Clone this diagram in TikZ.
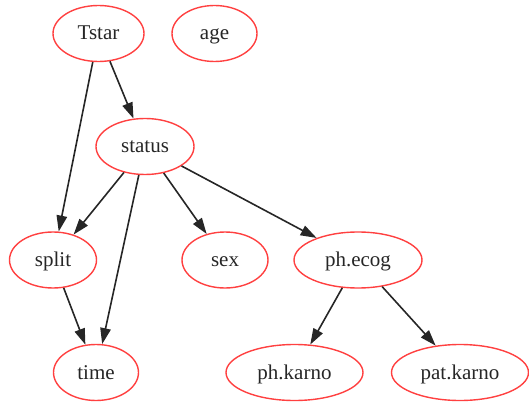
\documentclass[tikz,border=0pt]{standalone}
\usepackage{fontspec}
\setmainfont{Liberation Serif}
\usetikzlibrary{shapes.geometric,arrows.meta}
\begin{document}
\begin{tikzpicture}[x=1pt,y=-1pt,
  var/.style={ellipse,draw=red!75!white,line width=1.4pt,inner sep=0pt,
    minimum height=56pt,font=\fontsize{21}{24}\selectfont,text=black!85,
    text height=16pt,text depth=3pt},
  edge/.style={draw=black!85,line width=1.6pt,
    -{Triangle[length=16pt,width=10.5pt]}}]
\useasboundingbox (0,0) rectangle (529,403);
% top row
\node[var,minimum width=91pt]  (Tstar)  at (98.5,33.5) {Tstar};
\node[var,minimum width=85pt]  (age)    at (214.5,33.5) {age};
% second row
\node[var,minimum width=98pt]  (status) at (145,146.5) {status};
% third row
\node[var,minimum width=87pt]  (split)  at (53,260) {split};
\node[var,minimum width=86pt]  (sex)    at (225,260) {sex};
\node[var,minimum width=128pt] (ecog)   at (358,260) {ph.ecog};
% bottom row
\node[var,minimum width=85pt]  (time)   at (96,372.5) {time};
\node[var,minimum width=137pt] (phk)    at (294.5,372.5) {ph.karno};
\node[var,minimum width=137pt] (patk)   at (460,372.5) {pat.karno};
% dependencies
\draw[edge] (Tstar) -- (status);
\draw[edge] (Tstar) -- (split);
\draw[edge] (status) -- (split);
\draw[edge] (status) -- (time);
\draw[edge] (status) -- (sex);
\draw[edge] (status) -- (ecog);
\draw[edge] (split) -- (time);
\draw[edge] (ecog) -- (phk);
\draw[edge] (ecog) -- (patk);
\end{tikzpicture}
\end{document}
